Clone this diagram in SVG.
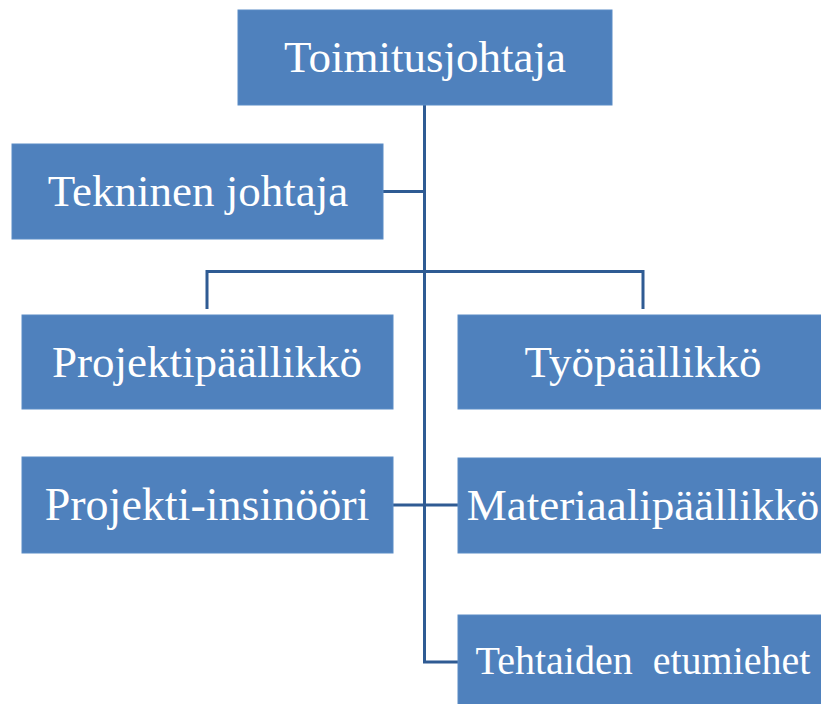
<svg xmlns="http://www.w3.org/2000/svg" width="821" height="704" viewBox="0 0 821 704">
<style>
.box{fill:#4F81BD;stroke:#5B8CC6;stroke-width:1}
.lbl{font-family:"Liberation Serif","Times New Roman",serif;fill:#FFFFFF;text-anchor:middle;font-size:45px}
.conn{fill:none;stroke:#2F5B93;stroke-width:3}
</style>
<rect width="821" height="704" fill="#FFFFFF"/>
<g id="connectors">
<path class="conn" d="M424.5,105 V662 H458"/>
<path class="conn" d="M383,191.5 H424.5"/>
<path class="conn" d="M207,309 V271.5 H643 V309"/>
<path class="conn" d="M393,505 H458"/>
</g>
<g id="toimitusjohtaja">
<rect class="box" x="238" y="10" width="374" height="95"/>
<text class="lbl" x="425" y="72">Toimitusjohtaja</text>
</g>
<g id="tekninen-johtaja">
<rect class="box" x="12" y="144" width="371" height="95"/>
<text class="lbl" x="198" y="206">Tekninen johtaja</text>
</g>
<g id="projektipaallikko">
<rect class="box" x="22" y="315" width="371" height="94"/>
<text class="lbl" x="207" y="377">Projektipäällikkö</text>
</g>
<g id="tyopaallikko">
<rect class="box" x="458" y="315" width="370" height="94"/>
<text class="lbl" x="643" y="377">Työpäällikkö</text>
</g>
<g id="projekti-insinoori">
<rect class="box" x="22" y="457" width="371" height="96"/>
<text class="lbl" x="207" y="520" style="font-size:46px">Projekti-insinööri</text>
</g>
<g id="materiaalipaallikko">
<rect class="box" x="458" y="458" width="370" height="95"/>
<text class="lbl" x="643" y="520">Materiaalipäällikkö</text>
</g>
<g id="tehtaiden-etumiehet">
<rect class="box" x="458" y="615" width="370" height="100"/>
<text class="lbl" x="643" y="674" style="font-size:40px" xml:space="preserve">Tehtaiden  etumiehet</text>
</g>
</svg>
